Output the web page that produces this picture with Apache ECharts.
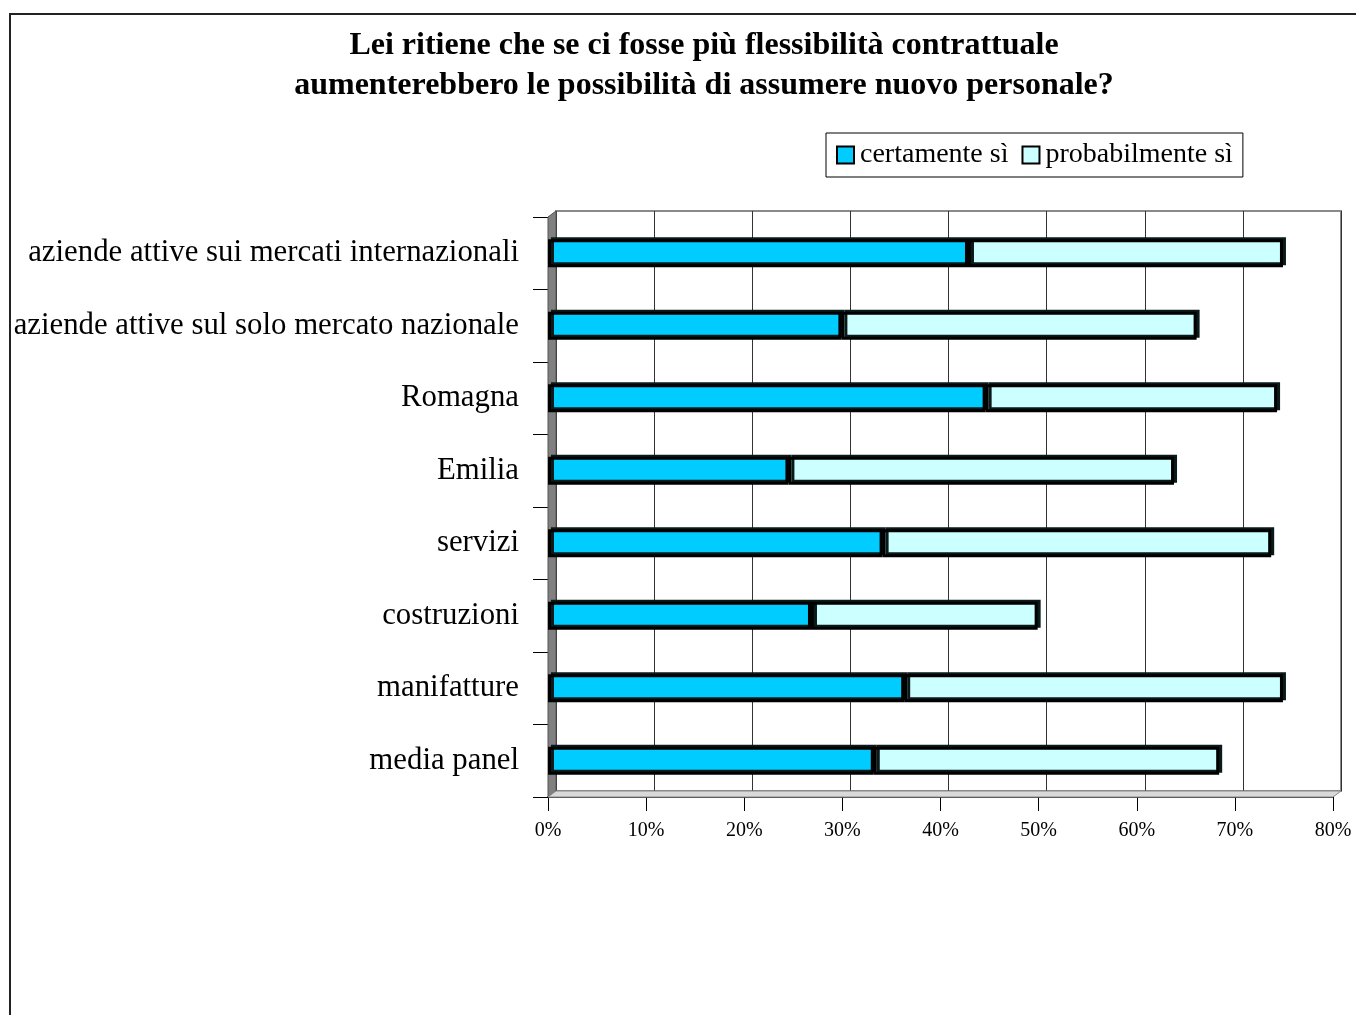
<!DOCTYPE html>
<html>
<head>
<meta charset="utf-8">
<script src="https://cdn.jsdelivr.net/npm/echarts@6/dist/echarts.min.js"></script>
<style>
  html, body { margin: 0; padding: 0; background: #fff; }
  #chart { width: 1356px; height: 1015px; }
</style>
</head>
<body>
<div id="chart"></div>
<script>
// categorie (dall'alto verso il basso)
var categories = [
    "aziende attive sui mercati internazionali",
    "aziende attive sul solo mercato nazionale",
    "Romagna",
    "Emilia",
    "servizi",
    "costruzioni",
    "manifatture",
    "media panel"
];
var certamente = [42.8, 29.9, 44.6, 24.5, 34.1, 26.8, 36.3, 33.2];
var probabilmente = [32.1, 36.2, 29.7, 39.3, 39.6, 23.1, 38.6, 35.2];
var seriesNames = ["certamente sì", "probabilmente sì"];

var serif = "'Liberation Serif', 'Times New Roman', serif";

// piano frontale e parete di fondo (effetto 3D)
var front = { left: 548, top: 217, width: 785, height: 580 };
var depthX = 8, depthY = -6;
var back = { left: front.left + depthX, top: front.top + depthY, width: front.width, height: front.height };

var chart = echarts.init(document.getElementById("chart"));

function barStyle(color) {
    return {
        color: color,
        borderColor: "#000",
        borderWidth: 3,
        shadowColor: "#0a1a1a",
        shadowBlur: 0,
        shadowOffsetX: 3,
        shadowOffsetY: -2
    };
}

chart.setOption({
    backgroundColor: "#fff",
    animation: false,
    title: {
        text: "Lei ritiene che se ci fosse più flessibilità contrattuale\naumenterebbero le possibilità di assumere nuovo personale?",
        left: 699,
        top: 21,
        textAlign: "center",
        textStyle: {
            fontFamily: serif,
            fontWeight: "bold",
            fontSize: 32,
            lineHeight: 40,
            color: "#000"
        }
    },
    legend: {
        data: seriesNames,
        left: 826,
        top: 133,
        padding: [8, 10, 8, 10],
        itemGap: 13,
        itemWidth: 17,
        itemHeight: 17,
        borderColor: "#000",
        borderWidth: 1,
        icon: "rect",
        itemStyle: { borderColor: "#000", borderWidth: 2, shadowBlur: 0, shadowOffsetX: 0, shadowOffsetY: 0 },
        textStyle: { fontFamily: serif, fontSize: 28, color: "#000", padding: [0, 0, 0, 1] }
    },
    grid: [
        // parete di fondo
        {
            left: back.left, top: back.top, width: back.width, height: back.height,
            show: true, borderColor: "#8a8a8a", borderWidth: 2, backgroundColor: "#fff"
        },
        // piano frontale
        {
            left: front.left, top: front.top, width: front.width, height: front.height
        }
    ],
    xAxis: [
        {
            gridIndex: 0, type: "value", min: 0, max: 80, interval: 10,
            axisLine: { show: false }, axisTick: { show: false }, axisLabel: { show: false },
            splitLine: { show: true, lineStyle: { color: "#333", width: 1 } }
        },
        {
            gridIndex: 1, type: "value", min: 0, max: 80, interval: 10,
            axisLine: { show: true, onZero: false, lineStyle: { color: "#333", width: 2 } },
            axisTick: { show: true, length: 14, lineStyle: { color: "#000", width: 1 } },
            axisLabel: {
                formatter: "{value}%", fontFamily: serif, fontSize: 20, color: "#000", margin: 24
            },
            splitLine: { show: false }
        }
    ],
    yAxis: [
        {
            gridIndex: 0, type: "category", data: categories, inverse: true,
            axisLine: { show: false }, axisTick: { show: false }, axisLabel: { show: false },
            splitLine: { show: false }
        },
        {
            gridIndex: 1, type: "category", data: categories, inverse: true,
            axisLine: { show: true, lineStyle: { color: "#000", width: 1 } },
            axisTick: { show: true, length: 15, lineStyle: { color: "#000" } },
            axisLabel: { fontFamily: serif, fontSize: 30.8, color: "#000", margin: 29 }
        }
    ],
    graphic: [
        // bordo esterno del grafico
        {
            type: "rect", z: 0, silent: true,
            shape: { x: 10, y: 14, width: 1400, height: 1100 },
            style: { fill: null, stroke: "#222", lineWidth: 2 }
        },
        // parete laterale
        {
            type: "polygon", z: 1, silent: true,
            shape: { points: [
                [front.left, front.top], [back.left, back.top],
                [back.left, back.top + back.height], [front.left, front.top + front.height]
            ] },
            style: { fill: "#808080", stroke: "#555", lineWidth: 1 }
        },
        // pavimento
        {
            type: "polygon", z: 1, silent: true,
            shape: { points: [
                [front.left, front.top + front.height], [back.left, back.top + back.height],
                [back.left + back.width, back.top + back.height], [front.left + front.width, front.top + front.height]
            ] },
            style: { fill: "#d9d9d9", stroke: "#8a8a8a", lineWidth: 1 }
        }
    ],
    series: [
        {
            name: seriesNames[0], type: "bar", stack: "tot",
            xAxisIndex: 1, yAxisIndex: 1, barWidth: 28,
            data: certamente, itemStyle: barStyle("#00ccff"), z: 3
        },
        {
            name: seriesNames[1], type: "bar", stack: "tot",
            xAxisIndex: 1, yAxisIndex: 1, barWidth: 28,
            data: probabilmente, itemStyle: barStyle("#ccffff"), z: 3
        }
    ]
});
</script>
</body>
</html>
